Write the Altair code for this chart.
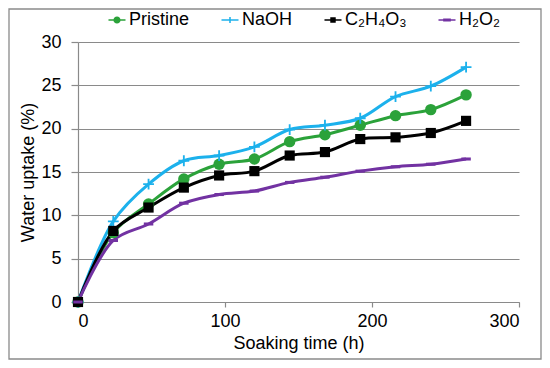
import altair as alt
import pandas as pd

# ---- data ----
hours = [0, 24, 48, 72, 96, 120, 144, 168, 192, 216, 240, 264]
series_names = ["Pristine", "NaOH", "C\u2082H\u2084O\u2083", "H\u2082O\u2082"]
pristine = [0, 8.0, 11.3, 14.2, 15.9, 16.5, 18.5, 19.3, 20.4, 21.5, 22.2, 23.9]
naoh = [0, 9.3, 13.6, 16.3, 16.9, 17.9, 19.9, 20.4, 21.2, 23.7, 24.9, 27.1]
c2h4o3 = [0, 8.2, 10.9, 13.2, 14.6, 15.1, 16.9, 17.3, 18.8, 19.0, 19.5, 20.9]
h2o2 = [0, 7.1, 9.0, 11.4, 12.4, 12.8, 13.8, 14.4, 15.1, 15.6, 15.9, 16.5]
x_ticks = [0, 100, 200, 300]
y_ticks = [0, 5, 10, 15, 20, 25, 30]

colors = ["#2BA23A", "#1CB1EC", "#000000", "#7232A2"]

rows = []
for name, vals in zip(series_names, [pristine, naoh, c2h4o3, h2o2]):
    for h, v in zip(hours, vals):
        rows.append({"series": name, "hours": h, "uptake": v})
df = pd.DataFrame(rows)

FONT = "Liberation Sans"
W, H = 441, 260

# marker shapes (plot)
circle = "circle"
cross = ("M-1,-0.17L-0.17,-0.17L-0.17,-1L0.17,-1L0.17,-0.17L1,-0.17L1,0.17"
         "L0.17,0.17L0.17,1L-0.17,1L-0.17,0.17L-1,0.17Z")
square = "square"
dash = "M-1,-0.32L1,-0.32L1,0.32L-1,0.32Z"
marker_shapes = [circle, cross, square, dash]
marker_sizes = [130, 90, 105, 90]

# legend shapes: line segment + marker
bar = "M-1,-0.09L1,-0.09L1,0.09L-1,0.09Z "
leg_circle = bar + "M0.42,0A0.42,0.42 0 1,1 -0.42,0A0.42,0.42 0 1,1 0.42,0Z"
leg_cross = bar + ("M-0.36,-0.09L-0.09,-0.09L-0.09,-0.36L0.09,-0.36L0.09,-0.09L0.36,-0.09"
                   "L0.36,0.09L0.09,0.09L0.09,0.36L-0.09,0.36L-0.09,0.09L-0.36,0.09Z")
leg_square = bar + "M-0.32,-0.32L0.32,-0.32L0.32,0.32L-0.32,0.32Z"
leg_dash = bar + "M-0.45,-0.17L0.45,-0.17L0.45,0.17L-0.45,0.17Z"
legend_shapes = [leg_circle, leg_cross, leg_square, leg_dash]

x_enc = alt.X(
    "hours:Q",
    scale=alt.Scale(domain=[0, 300], nice=False),
    axis=alt.Axis(values=x_ticks, grid=False, title="Soaking time (h)",
                  tickSize=5, labelPadding=5, titlePadding=4),
)
y_enc = alt.Y(
    "uptake:Q",
    scale=alt.Scale(domain=[0, 30], nice=False),
    axis=alt.Axis(values=y_ticks, grid=True, title="Water uptake (%)",
                  tickSize=7, labelPadding=10, titlePadding=3),
)
color_scale = alt.Scale(domain=series_names, range=colors)

lines = alt.Chart(df).mark_line(interpolate="catmull-rom", strokeWidth=3).encode(
    x=x_enc, y=y_enc,
    color=alt.Color("series:N", scale=color_scale, legend=None),
    order=alt.Order("hours:Q"),
)

points = alt.Chart(df).mark_point(filled=True, opacity=1).encode(
    x=x_enc, y=y_enc,
    color=alt.Color("series:N", scale=color_scale, legend=None),
    shape=alt.Shape("series:N", scale=alt.Scale(domain=series_names, range=marker_shapes), legend=None),
    size=alt.Size("series:N", scale=alt.Scale(domain=series_names, range=marker_sizes), legend=None),
)

leg = alt.Legend(
    orient="none", legendX=30, legendY=-31, direction="horizontal", columns=4,
    title=None, labelFont=FONT, labelFontSize=18, labelColor="#000000",
    symbolSize=290, symbolStrokeWidth=0, columnPadding=31, labelOffset=3,
)
legend_layer = alt.Chart(df).mark_point(filled=True, size=0, opacity=1).encode(
    x=x_enc, y=y_enc,
    color=alt.Color("series:N", scale=color_scale, legend=leg),
    shape=alt.Shape("series:N", scale=alt.Scale(domain=series_names, range=legend_shapes), legend=leg),
)

border = alt.Chart(pd.DataFrame({"a": [0]})).mark_rect(
    fillOpacity=0, stroke="#8a8a8a", strokeWidth=1.3
).encode(
    x=alt.value(-69), x2=alt.value(W + 22), y=alt.value(-33), y2=alt.value(H + 57)
)

chart = (
    alt.layer(border, legend_layer, lines, points)
    .resolve_scale(color="independent", shape="independent", size="independent")
    .properties(
        width=W, height=H,
        autosize=alt.AutoSizeParams(type="none"),
        padding={"left": 70, "top": 34, "right": 23, "bottom": 58},
    )
    .configure_view(stroke=None)
    .configure_axis(
        labelFont=FONT, titleFont=FONT, labelFontSize=18, titleFontSize=18,
        titleFontWeight="normal", labelColor="#000000", titleColor="#000000",
        domainColor="#8a8a8a", tickColor="#8a8a8a", gridColor="#8a8a8a",
        domainWidth=1.2, tickWidth=1.2, gridWidth=1.2,
    )
)

chart.save("out.html", embed_options={"renderer": "svg", "actions": False})
